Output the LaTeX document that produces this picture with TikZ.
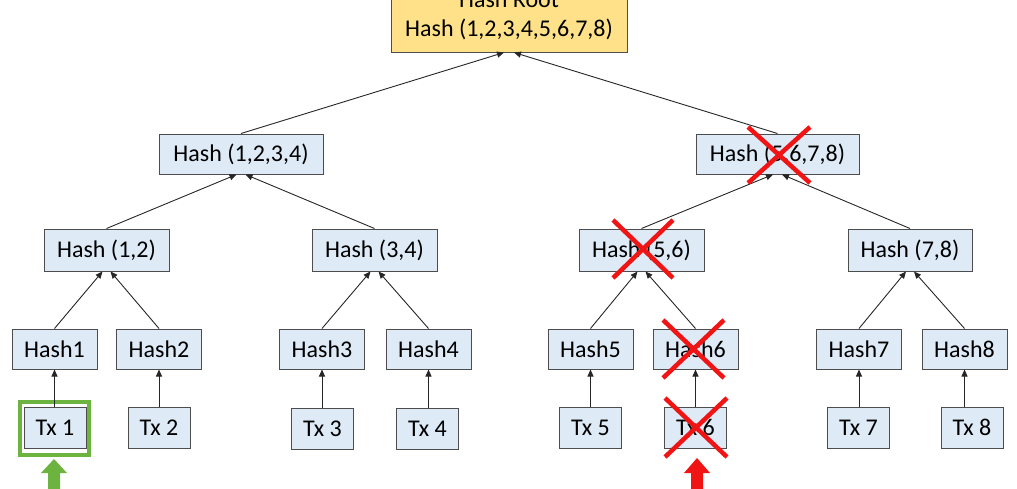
\documentclass[tikz,border=0pt]{standalone}
\usepackage{fontspec}
\setmainfont{Carlito}
\usetikzlibrary{arrows.meta}
\definecolor{boxfill}{HTML}{DEEBF7}
\definecolor{boxline}{HTML}{4D4D4D}
\definecolor{rootfill}{HTML}{FFE189}
\definecolor{edgecol}{HTML}{262626}
\definecolor{grn}{HTML}{6CB33F}
\definecolor{xred}{HTML}{F01414}
\tikzset{
  hbox/.style={draw=boxline, fill=boxfill, line width=1pt, inner sep=0pt,
    font=\fontsize{24}{29}\selectfont, text=black},
  edge/.style={draw=edgecol, line width=0.9pt, -{Triangle[length=7pt,width=6pt]}},
  xmark/.style={draw=xred, line width=4.5pt},
}
\begin{document}
\begin{tikzpicture}[x=1pt,y=-1pt]
\useasboundingbox (0,0) rectangle (1017,488);
\clip (0,0) rectangle (1017,488);
% root
\node[hbox, fill=rootfill, minimum width=236pt, minimum height=74pt, align=center] (root) at (509,15) {Hash Root\\Hash (1,2,3,4,5,6,7,8)};
% level 2
\node[hbox, minimum width=164pt, minimum height=40pt] (h1234) at (241,154) {Hash (1,2,3,4)};
\node[hbox, minimum width=163pt, minimum height=40pt] (h5678) at (777.5,154) {Hash (5,6,7,8)};
% level 3
\node[hbox, minimum width=125pt, minimum height=42pt] (h12) at (106.5,250) {Hash (1,2)};
\node[hbox, minimum width=125pt, minimum height=42pt] (h34) at (374.5,250) {Hash (3,4)};
\node[hbox, minimum width=125pt, minimum height=42pt] (h56) at (641.5,250) {Hash (5,6)};
\node[hbox, minimum width=124pt, minimum height=42pt] (h78) at (910,250) {Hash (7,8)};
% level 4
\foreach \n/\x in {1/54.5,2/159,3/322,4/428.5,5/590.5,6/695.5,7/859,8/964.5}{
  \node[hbox, minimum width=85pt, minimum height=40pt] (hash\n) at (\x,349) {Hash\n};
}
% transactions
\foreach \n/\x/\y in {1/55/427.5,2/159/427.5,3/322.5/429,4/427.5/429,5/590.5/427.5,6/695.5/427.5,7/858.5/427.5,8/972/427.5}{
  \node[hbox, minimum width=62pt, minimum height=41pt] (tx\n) at (\x,\y) {Tx \n};
}
% green frame around Tx 1
\node[draw=grn, line width=4pt, minimum width=69pt, minimum height=53pt, inner sep=0pt] (sel) at (54.5,428.5) {};
% connectors
\draw[edge] (h1234.north) -- ([xshift=-5pt]root.south);
\draw[edge] (h5678.north) -- ([xshift=5pt]root.south);
\draw[edge] (h12.north) -- ([xshift=-4.5pt]h1234.south);
\draw[edge] (h34.north) -- ([xshift=4.5pt]h1234.south);
\draw[edge] (h56.north) -- ([xshift=-4.5pt]h5678.south);
\draw[edge] (h78.north) -- ([xshift=4.5pt]h5678.south);
\draw[edge] (hash1.north) -- ([xshift=-4pt]h12.south);
\draw[edge] (hash2.north) -- ([xshift=4pt]h12.south);
\draw[edge] (hash3.north) -- ([xshift=-4pt]h34.south);
\draw[edge] (hash4.north) -- ([xshift=4pt]h34.south);
\draw[edge] (hash5.north) -- ([xshift=-4pt]h56.south);
\draw[edge] (hash6.north) -- ([xshift=4pt]h56.south);
\draw[edge] (hash7.north) -- ([xshift=-4pt]h78.south);
\draw[edge] (hash8.north) -- ([xshift=4pt]h78.south);
\foreach \n in {1,...,8}{
  \draw[edge] (tx\n.north -| hash\n.south) -- (hash\n.south);
}
% red crosses
\draw[xmark] (748,127) -- (810,183) (748,183) -- (810,127);
\draw[xmark] (613,220) -- (673,278) (613,278) -- (673,220);
\draw[xmark] (663,320) -- (724,378) (663,378) -- (724,320);
\draw[xmark] (665,398) -- (727,457) (665,457) -- (727,398);
% big arrows
\fill[grn] (54,459) -- (67,473) -- (60,473) -- (60,495) -- (48,495) -- (48,473) -- (41,473) -- cycle;
\fill[xred] (697,458) -- (710,473) -- (703,473) -- (703,495) -- (691,495) -- (691,473) -- (684,473) -- cycle;
\end{tikzpicture}
\end{document}
